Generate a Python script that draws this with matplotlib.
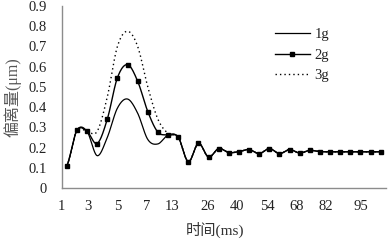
import numpy as np
import matplotlib
matplotlib.use("Agg")
import matplotlib.pyplot as plt
from matplotlib.lines import Line2D

# ---- data ----
series_names = ["1g", "2g", "3g"]
vals_1g = [0.11, 0.285, 0.28, 0.16, 0.25, 0.395, 0.44, 0.37, 0.24, 0.218, 0.262, 0.252,
           0.13, 0.221, 0.153, 0.195, 0.175, 0.18, 0.19, 0.17, 0.195, 0.17, 0.19, 0.173,
           0.186, 0.18, 0.179, 0.179, 0.179, 0.179, 0.179, 0.179]
vals_2g = [0.11, 0.285, 0.28, 0.22, 0.34, 0.545, 0.61, 0.528, 0.378, 0.276, 0.262, 0.252,
           0.13, 0.221, 0.153, 0.195, 0.175, 0.18, 0.19, 0.17, 0.195, 0.17, 0.19, 0.173,
           0.186, 0.18, 0.179, 0.179, 0.179, 0.179, 0.179, 0.179]
vals_3g = [0.11, 0.285, 0.28, 0.28, 0.45, 0.70, 0.775, 0.70, 0.50, 0.34, 0.27, 0.252,
           0.13, 0.221, 0.153, 0.195, 0.175, 0.18, 0.19, 0.17, 0.195, 0.17, 0.19, 0.173,
           0.186, 0.18, 0.179, 0.179, 0.179, 0.179, 0.179, 0.179]
tick_labels = ["1", "3", "5", "7", "13", "26", "40", "54", "68", "82", "95"]
tick_pos = [-0.5, 2.1, 5.0, 7.9, 10.4, 13.9, 16.8, 19.8, 22.7, 25.6, 29.0]
y_ticks = [0, 0.1, 0.2, 0.3, 0.4, 0.5, 0.6, 0.7, 0.8, 0.9]
y_tick_labels = ["0", "0.1", "0.2", "0.3", "0.4", "0.5", "0.6", "0.7", "0.8", "0.9"]


def smooth(y, n=20):
    """Excel-like smoothed line (Catmull-Rom through the points)."""
    y = np.asarray(y, float)
    x = np.arange(len(y), dtype=float)
    xs, ys = [], []
    for i in range(len(y) - 1):
        p0 = y[i - 1] if i > 0 else y[i]
        p3 = y[i + 2] if i + 2 < len(y) else y[i + 1]
        m0 = (y[i + 1] - p0) / 2.0
        m1 = (p3 - y[i]) / 2.0
        t = np.linspace(0, 1, n, endpoint=False)
        h00 = 2 * t**3 - 3 * t**2 + 1
        h10 = t**3 - 2 * t**2 + t
        h01 = -2 * t**3 + 3 * t**2
        h11 = t**3 - t**2
        ys.append(h00 * y[i] + h10 * m0 + h01 * y[i + 1] + h11 * m1)
        xs.append(x[i] + t)
    xs.append([x[-1]])
    ys.append([y[-1]])
    return np.concatenate(xs), np.concatenate(ys)


serif = ["Liberation Serif", "Noto Sans CJK SC"]
plt.rcParams["font.family"] = serif

fig = plt.figure(figsize=(3.89, 2.44), dpi=100)
ax = fig.add_axes([61.7 / 389, 56 / 244, (385.8 - 61.7) / 389, (188 - 6) / 244])

x1, y1 = smooth(vals_1g)
x2, y2 = smooth(vals_2g)
x3, y3 = smooth(vals_3g)
idx = np.arange(len(vals_2g))

ax.plot(x1, y1, color="black", lw=0.9)
ax.plot(x2, y2, color="black", lw=1.0)
ax.plot(idx, vals_2g, linestyle="none", marker="s", ms=3.0, color="black")
ax.plot(x3, y3, color="black", lw=1.0, linestyle=(0, (1, 2.2)))

ax.set_xlim(-0.5, 31.5)
ax.set_ylim(0, 0.9)
ax.set_yticks(y_ticks)
ax.set_yticklabels(y_tick_labels)
ax.set_xticks(tick_pos)
ax.set_xticklabels(tick_labels)
ax.tick_params(axis="both", length=0, labelsize=10.5, colors="#222222")
ax.tick_params(axis="y", pad=11)
ax.tick_params(axis="x", pad=9)

for s in ["top", "right"]:
    ax.spines[s].set_visible(False)
for s in ["left", "bottom"]:
    ax.spines[s].set_color("#8c8c8c")
    ax.spines[s].set_linewidth(1.0)

fig.text(215 / 389, 1 - 230 / 244, "时间(ms)", ha="center", va="center",
         fontsize=11, color="#333333", family=serif)
fig.text(13 / 389, 1 - 97 / 244, "偏离量(μm)", ha="center", va="center",
         rotation=90, fontsize=11.5, color="#555555", family=serif)

handles = [
    Line2D([], [], color="black", lw=0.9),
    Line2D([], [], color="black", lw=1.0, marker="s", ms=3.0),
    Line2D([], [], color="black", lw=1.0, linestyle=(0, (1, 2.2))),
]
leg = fig.legend(handles, series_names, loc="upper left",
                 bbox_to_anchor=(272 / 389, 1 - 25 / 244), frameon=False,
                 fontsize=10.5, handlelength=2.4, handletextpad=0.3,
                 labelspacing=0.5, borderaxespad=0, borderpad=0.2)
for t in leg.get_texts():
    t.set_color("#222222")

fig.savefig("out.png", dpi=100)
